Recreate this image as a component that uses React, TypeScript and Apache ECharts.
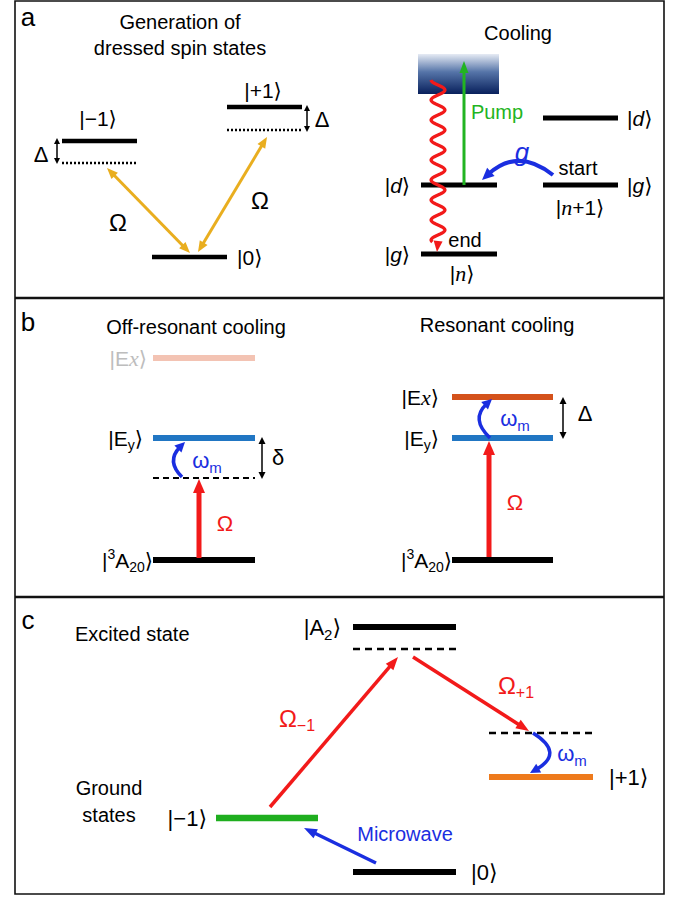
import React, { useEffect, useRef } from "react";
import * as echarts from "echarts";

const FONT = '"Liberation Sans", Arial, "DejaVu Sans", sans-serif';
const SERIF = '"Liberation Serif", "Times New Roman", "DejaVu Serif", serif';

const RED = "#f21a1a";
const BLUE = "#1a2ee0";
const GOLD = "#e9ae1f";
const GREEN = "#22b422";

// Panel frame and dividers
const frameBox = [15, 1, 664, 894];
const dividerYs = [298, 597];

// Panel letters: [text, x, y]
const panelLetters: [string, number, number][] = [
  ["a", 28, 17],
  ["b", 28, 322],
  ["c", 28, 620],
];

// Titles: [text, x, y, align]
const titles: [string, number, number, string][] = [
  ["Generation of", 180, 22, "center"],
  ["dressed spin states", 180, 48, "center"],
  ["Cooling", 518, 33, "center"],
  ["Off-resonant cooling", 196, 327, "center"],
  ["Resonant cooling", 497, 325, "center"],
  ["Excited state", 75, 634, "left"],
  ["Ground", 109, 788, "center"],
  ["states", 109, 815, "center"],
  ["start", 578, 168, "center"],
  ["end", 465, 240, "center"],
];

// Energy levels: [x1, x2, y, color, width, dash]
const levels: [number, number, number, string, number, number[] | null][] = [
  // a, dressed states
  [62, 137, 141, "#000", 4.5, null],
  [62, 137, 163, "#000", 2.5, [2, 2]],
  [227, 302, 107, "#000", 4.5, null],
  [227, 302, 130, "#000", 2.5, [2, 2]],
  [152, 227, 257, "#000", 4.5, null],
  // a, cooling
  [421, 497, 185, "#000", 5, null],
  [421, 497, 254, "#000", 5, null],
  [543, 618, 118, "#000", 5, null],
  [543, 618, 185, "#000", 5, null],
  // b, off-resonant
  [153, 255, 358, "#f3c3b3", 6, null],
  [153, 255, 438, "#2176c3", 6, null],
  [153, 255, 478, "#000", 2, [6, 4]],
  [153, 255, 560, "#000", 6, null],
  // b, resonant
  [452, 553, 397, "#d4521b", 6, null],
  [452, 553, 438, "#2176c3", 6, null],
  [452, 553, 560, "#000", 6, null],
  // c
  [353, 456, 627, "#000", 6, null],
  [353, 456, 649, "#000", 2.5, [7, 5]],
  [216, 318, 818, "#1fae1f", 6.5, null],
  [353, 456, 872, "#000", 6, null],
  [489, 593, 733, "#000", 2.5, [7, 5]],
  [489, 593, 777, "#ee7a1c", 6, null],
];

// Straight arrows: [x1, y1, x2, y2, color, lineWidth, headLen, headWidth, double]
const arrows: [number, number, number, number, string, number, number, number, boolean][] = [
  [107, 168, 190, 253, GOLD, 3, 11, 9, true],
  [267, 137, 198, 252, GOLD, 3, 11, 9, true],
  [57, 138, 57, 164, "#000", 1.5, 6, 6, true],
  [307, 105, 307, 132, "#000", 1.5, 6, 6, true],
  [464, 185, 464, 61, GREEN, 3, 12, 9, false],
  [262, 437, 262, 479, "#000", 1.5, 7, 7, true],
  [563, 397, 563, 439, "#000", 1.5, 7, 7, true],
  [199, 558, 199, 479, RED, 5, 14, 12, false],
  [489, 557, 489, 441, RED, 5, 14, 12, false],
  [270, 807, 398, 657, RED, 3.5, 13, 10, false],
  [413, 657, 529, 731, RED, 3.5, 13, 10, false],
  [376, 863, 304, 828, BLUE, 3.5, 13, 10, false],
];

// Curved arrows (quadratic): [x1, y1, cpx, cpy, x2, y2, color, lineWidth, headLen, headWidth]
const curved: [number, number, number, number, number, number, string, number, number, number][] = [
  [553, 175, 518, 147, 482, 180, BLUE, 4, 12, 11],
  [182, 477, 166, 461, 185, 442, BLUE, 3.5, 10, 10],
  [490, 438, 470, 419, 492, 399, BLUE, 3.5, 10, 10],
  [533, 733, 565, 753, 530, 773, BLUE, 3.5, 10, 10],
];

// Labels: [text, x, y, size, color, align]
const labels: [string, number, number, number, string, string][] = [
  ["|−1⟩", 98, 118, 21, "#000", "center"],
  ["|+1⟩", 263, 90, 21, "#000", "center"],
  ["|0⟩", 237, 257, 21, "#000", "left"],
  ["Δ", 41, 154, 22, "#000", "center"],
  ["Δ", 322, 119, 22, "#000", "center"],
  ["Ω", 118, 222, 24, "#000", "center"],
  ["Ω", 260, 200, 24, "#000", "center"],
  ["Pump", 497, 112, 20, GREEN, "center"],
  ["{gi|g}", 522, 152, 26, BLUE, "center"],
  ["|{si|d}⟩", 410, 185, 21, "#000", "right"],
  ["|{si|g}⟩", 410, 254, 21, "#000", "right"],
  ["|{i|n}⟩", 462, 273, 21, "#000", "center"],
  ["|{si|d}⟩", 627, 118, 21, "#000", "left"],
  ["|{si|g}⟩", 627, 185, 21, "#000", "left"],
  ["|{i|n}+1⟩", 580, 207, 21, "#000", "center"],
  ["|E{i|x}⟩", 147, 358, 21, "#bdbdbd", "right"],
  ["|E{sub|y}⟩", 143, 438, 21, "#000", "right"],
  ["|{sup|3}A{sub|20}⟩", 153, 560, 21, "#000", "right"],
  ["ω{sub|m}", 207, 460, 22, BLUE, "center"],
  ["δ", 278, 457, 22, "#000", "center"],
  ["Ω", 225, 523, 22, RED, "center"],
  ["|E{i|x}⟩", 439, 397, 21, "#000", "right"],
  ["|E{sub|y}⟩", 439, 438, 21, "#000", "right"],
  ["|{sup|3}A{sub|20}⟩", 452, 560, 21, "#000", "right"],
  ["Δ", 585, 413, 22, "#000", "center"],
  ["ω{sub|m}", 515, 418, 22, BLUE, "center"],
  ["Ω", 515, 502, 22, RED, "center"],
  ["|A{sub|2}⟩", 341, 627, 22, "#000", "right"],
  ["|−1⟩", 207, 818, 22, "#000", "right"],
  ["|0⟩", 471, 872, 22, "#000", "left"],
  ["|+1⟩", 609, 777, 22, "#000", "left"],
  ["Ω{sub|−1}", 297, 718, 24, RED, "center"],
  ["Ω{sub|+1}", 516, 685, 24, RED, "center"],
  ["ω{sub|m}", 572, 753, 22, BLUE, "center"],
  ["Microwave", 405, 834, 20, BLUE, "center"],
];

// Wavy decay line (spontaneous emission): [xCenter, yTop, yTip, amplitude, period]
const wave = [438, 80, 252, 7, 20];
// Continuum box: [x, y, w, h]
const continuum = [418, 54, 81, 40];

function richFor(size: number, color: string) {
  const s = Math.round(size * 0.68);
  return {
    i: { fontSize: size + 1, fontFamily: SERIF, fontStyle: "italic", fill: color },
    si: { fontSize: size, fontFamily: FONT, fontStyle: "italic", fill: color },
    gi: { fontSize: size, fontFamily: FONT, fontStyle: "italic", fill: color },
    sub: { fontSize: s, fontFamily: FONT, fill: color, verticalAlign: "bottom", lineHeight: s },
    sup: { fontSize: s, fontFamily: FONT, fill: color, verticalAlign: "top", lineHeight: s },
  };
}

function textEl(text: string, x: number, y: number, size: number, color: string, align = "center") {
  return {
    type: "text",
    x,
    y,
    z: 10,
    style: {
      text,
      fontSize: size,
      fontFamily: FONT,
      fill: color,
      align,
      textAlign: align,
      verticalAlign: "middle",
      textVerticalAlign: "middle",
      lineHeight: Math.round(size * 1.3),
      rich: richFor(size, color),
    },
  };
}

function headEl(tx: number, ty: number, ang: number, len: number, w: number, color: string) {
  const c = Math.cos(ang), s = Math.sin(ang);
  const bx = tx - len * c, by = ty - len * s;
  const px = -s * w / 2, py = c * w / 2;
  return {
    type: "polygon",
    z: 5,
    shape: { points: [[tx, ty], [bx + px, by + py], [bx - px, by - py]] },
    style: { fill: color },
  };
}

function arrowEls(a: typeof arrows[number]) {
  const [x1, y1, x2, y2, color, lw, len, w, dbl] = a;
  const ang = Math.atan2(y2 - y1, x2 - x1);
  const c = Math.cos(ang), s = Math.sin(ang);
  const k = len * 0.8;
  const sx = dbl ? x1 + k * c : x1, sy = dbl ? y1 + k * s : y1;
  const els: any[] = [
    {
      type: "line",
      z: 5,
      shape: { x1: sx, y1: sy, x2: x2 - k * c, y2: y2 - k * s },
      style: { stroke: color, lineWidth: lw },
    },
    headEl(x2, y2, ang, len, w, color),
  ];
  if (dbl) els.push(headEl(x1, y1, ang + Math.PI, len, w, color));
  return els;
}

function curvedEls(a: typeof curved[number]) {
  const [x1, y1, cx, cy, x2, y2, color, lw, len, w] = a;
  const ang = Math.atan2(y2 - cy, x2 - cx);
  const k = len * 0.7;
  return [
    {
      type: "bezierCurve",
      z: 5,
      shape: { x1, y1, cpx1: cx, cpy1: cy, x2: x2 - k * Math.cos(ang), y2: y2 - k * Math.sin(ang) },
      style: { stroke: color, lineWidth: lw, fill: "none" },
    },
    headEl(x2, y2, ang, len, w, color),
  ];
}

function waveEls() {
  const [xc, yTop, yTip, amp, per] = wave;
  const yEnd = yTip - 10;
  const pts: number[][] = [];
  for (let y = yTop; y <= yEnd; y += 1) {
    pts.push([xc + amp * Math.sin((2 * Math.PI * (y - yTop)) / per - Math.PI / 2), y]);
  }
  return [
    {
      type: "polyline",
      z: 6,
      shape: { points: pts },
      style: { stroke: RED, lineWidth: 3.2, fill: "none" },
    },
    headEl(xc - 1, yTip, Math.PI / 2 + 0.1, 11, 9, RED),
  ];
}

export default function App() {
  const ref = useRef<HTMLDivElement>(null);
  useEffect(() => {
    document.body.style.margin = "0";
    if (!ref.current) return;
    const chart = echarts.init(ref.current, null, { renderer: "svg" });
    const els: any[] = [];
    els.push({
      type: "rect",
      z: 1,
      shape: { x: frameBox[0], y: frameBox[1], width: frameBox[2] - frameBox[0], height: frameBox[3] - frameBox[1] },
      style: { fill: "#fff", stroke: "#111", lineWidth: 1.6 },
    });
    dividerYs.forEach((y) =>
      els.push({
        type: "line",
        z: 2,
        shape: { x1: frameBox[0], y1: y, x2: frameBox[2], y2: y },
        style: { stroke: "#111", lineWidth: 2.5 },
      })
    );
    els.push({
      type: "rect",
      z: 3,
      shape: { x: continuum[0], y: continuum[1], width: continuum[2], height: continuum[3] },
      style: {
        fill: new echarts.graphic.LinearGradient(0, 0, 0, 1, [
          { offset: 0, color: "#e6ebf4" },
          { offset: 0.45, color: "#5574a8" },
          { offset: 1, color: "#08205c" },
        ]),
      },
    });
    levels.forEach(([x1, x2, y, color, w, dash]) =>
      els.push({
        type: "line",
        z: 4,
        shape: { x1, y1: y, x2, y2: y },
        style: { stroke: color, lineWidth: w, lineDash: dash || undefined },
      })
    );
    arrows.forEach((a) => els.push(...arrowEls(a)));
    curved.forEach((a) => els.push(...curvedEls(a)));
    els.push(...waveEls());
    panelLetters.forEach(([t, x, y]) => els.push(textEl(t, x, y, 26, "#000")));
    titles.forEach(([t, x, y, al]) => els.push(textEl(t, x, y, 20, "#000", al)));
    labels.forEach(([t, x, y, s, c, al]) => els.push(textEl(t, x, y, s, c, al)));
    chart.setOption({ animation: false, graphic: { elements: els } });
    return () => chart.dispose();
  }, []);
  return <div ref={ref} style={{ width: 688, height: 897 }} />;
}
